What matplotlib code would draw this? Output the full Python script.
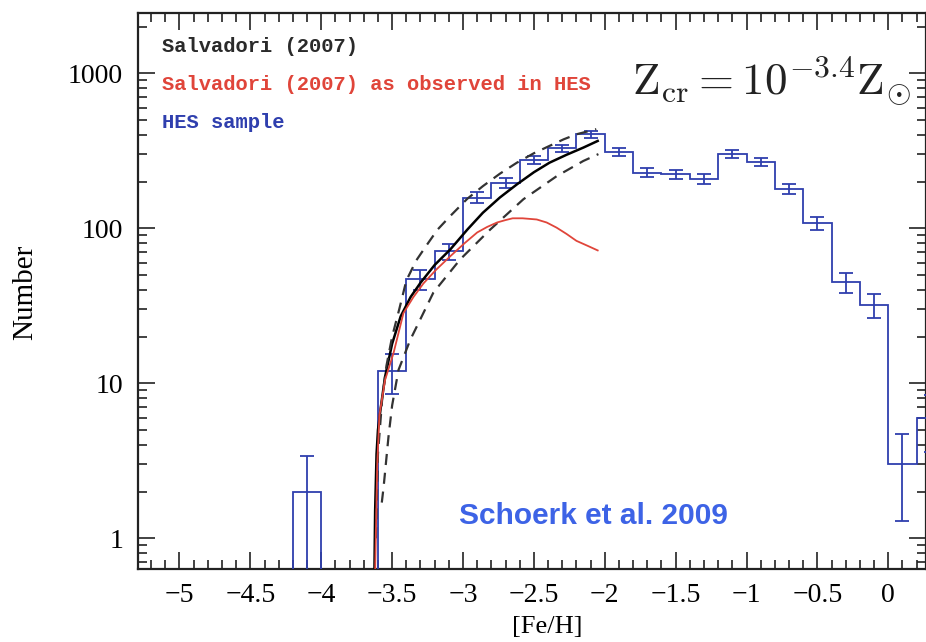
import numpy as np
import matplotlib
matplotlib.use("Agg")
import matplotlib.pyplot as plt
from matplotlib.ticker import MultipleLocator, LogLocator, NullFormatter, FixedLocator, FixedFormatter

# ---------------- data ----------------
hes_edges = [-4.2, -4.0, -3.8, -3.6, -3.4, -3.2, -3.0, -2.8, -2.6, -2.4, -2.2, -2.0,
             -1.8, -1.6, -1.4, -1.2, -1.0, -0.8, -0.6, -0.4, -0.2, 0.0, 0.2, 0.4]
hes_counts = [2, 0, 0, 12, 47, 71, 158, 197, 276, 328, 404, 312,
              229, 223, 208, 301, 268, 179, 108, 45, 32, 3, 6]
hes_err = [1.4, 0, 0, 3.5, 6.9, 8.4, 12.6, 14.0, 16.6, 18.1, 20.1, 17.7,
           15.1, 14.9, 14.4, 17.3, 16.4, 13.4, 10.4, 6.7, 5.7, 1.7, 2.4]

salv_x = [-3.625, -3.62, -3.61, -3.60, -3.58, -3.55, -3.50, -3.44, -3.37, -3.30, -3.20,
          -3.09, -2.97, -2.86, -2.74, -2.62, -2.50, -2.39, -2.27, -2.15, -2.05]
salv_y = [0.6, 1.5, 3.5, 5.0, 7.0, 11, 18, 27, 36, 44.5, 58,
          73, 98, 126, 158, 192, 230, 265, 298, 332, 366]

salv_hi_x = [-3.615, -3.60, -3.57, -3.54, -3.50, -3.45, -3.40, -3.33, -3.26, -3.18,
             -3.09, -2.97, -2.86, -2.74, -2.62, -2.50, -2.39, -2.29, -2.20, -2.06]
salv_hi_y = [1.0, 3.5, 8, 13, 20, 30, 46, 62, 77, 98,
             120, 155, 187, 225, 265, 305, 340, 375, 404, 436]

salv_lo_x = [-3.573, -3.56, -3.526, -3.50, -3.455, -3.373, -3.209, -3.020, -2.809,
             -2.574, -2.339, -2.151, -2.045]
salv_lo_y = [1.7, 2.15, 4.5, 7.2, 12.2, 19, 38.5, 63, 98, 154, 217, 272, 301]

obs_x = [-3.62, -3.605, -3.59, -3.55, -3.49, -3.42, -3.35, -3.28, -3.19, -3.09, -2.99,
         -2.90, -2.83, -2.76, -2.70, -2.65, -2.58, -2.48, -2.41, -2.34, -2.27, -2.20,
         -2.12, -2.05]
obs_y = [0.6, 3.0, 6.2, 10.5, 15.7, 28.4, 36, 44, 54, 66, 80,
         94, 102, 109, 113, 116, 116, 114, 109, 101, 92, 83,
         77, 72]

xticks = [-5, -4.5, -4, -3.5, -3, -2.5, -2, -1.5, -1, -0.5, 0]
xtick_labels = ["\u22125", "\u22124.5", "\u22124", "\u22123.5", "\u22123", "\u22122.5",
                "\u22122", "\u22121.5", "\u22121", "\u22120.5", "0"]
yticks = [1, 10, 100, 1000]
ytick_labels = ["1", "10", "100", "1000"]

# ---------------- style ----------------
W, H = 926, 642
BLUE = "#2f3fae"
RED = "#e0453a"
plt.rcParams["mathtext.fontset"] = "cm"

fig = plt.figure(figsize=(W / 100, H / 100), dpi=100)
ax = fig.add_axes([138.3 / W, 1 - 569.3 / H, (926 - 138.3) / W, (569.3 - 13.3) / H])
ax.set_yscale("log")
ax.set_xlim(-5.2906, 0.2659)
ax.set_ylim(0.631, 2438)

# HES histogram
edges = np.array(hes_edges)
counts = np.array(hes_counts, dtype=float)
ax.stairs(np.where(counts > 0, counts, 1e-3), edges, baseline=1e-3,
          color=BLUE, lw=1.3, zorder=3)
centers = 0.5 * (edges[:-1] + edges[1:])
mask = counts > 0
ax.errorbar(centers[mask], counts[mask], yerr=np.array(hes_err)[mask], fmt="none",
            ecolor=BLUE, elinewidth=1.3, capsize=5, capthick=1.3, zorder=3)

# Salvadori curves
ax.plot(salv_x, salv_y, color="black", lw=1.8, zorder=4)
ax.plot(salv_hi_x, salv_hi_y, color="#333333", lw=1.6, ls=(0, (5, 3.5)), zorder=4)
ax.plot(salv_lo_x, salv_lo_y, color="#333333", lw=1.6, ls=(0, (5, 3.5)), zorder=4)
ax.plot(obs_x, obs_y, color=RED, lw=1.3, zorder=4)

# ticks
ax.xaxis.set_major_locator(FixedLocator(xticks))
ax.xaxis.set_major_formatter(FixedFormatter(xtick_labels))
ax.xaxis.set_minor_locator(MultipleLocator(0.1))
ax.yaxis.set_major_locator(FixedLocator(yticks))
ax.yaxis.set_major_formatter(FixedFormatter(ytick_labels))
ax.yaxis.set_minor_locator(LogLocator(base=10, subs=np.arange(2, 10), numticks=20))
ax.yaxis.set_minor_formatter(NullFormatter())
ax.tick_params(which="both", direction="in", top=True, right=True, width=1.2, color="#222222")
ax.tick_params(which="major", length=12)
ax.tick_params(which="minor", length=6.5)
ax.tick_params(axis="x", which="major", pad=10, labelsize=20)
ax.tick_params(axis="y", which="major", pad=11, labelsize=20)
for lab in ax.get_xticklabels() + ax.get_yticklabels():
    lab.set_fontfamily("Liberation Serif")
for sp in ax.spines.values():
    sp.set_linewidth(1.6)
    sp.set_color("#222222")

# axis labels
fig.text(25 / W, 1 - 292 / H, "Number", rotation=90, ha="center", va="center",
         fontsize=21, family="Liberation Serif")
fig.text(547 / W, 1 - 627 / H, "[Fe/H]", ha="center", va="center",
         fontsize=19, family="Liberation Serif")

# legend-like texts
fig.text(162 / W, 1 - 46 / H, "Salvadori (2007)", ha="left", va="center",
         fontsize=14.8, family="Liberation Mono", weight="bold", color="#2a2a2a")
fig.text(162 / W, 1 - 84 / H, "Salvadori (2007) as observed in HES", ha="left", va="center",
         fontsize=14.8, family="Liberation Mono", weight="bold", color=RED)
fig.text(162 / W, 1 - 122 / H, "HES sample", ha="left", va="center",
         fontsize=14.8, family="Liberation Mono", weight="bold", color=BLUE)

fig.text(632 / W, 1 - 95 / H, r"$\mathrm{Z_{cr}}=10^{-3.4}\mathrm{Z}_{\odot}$",
         ha="left", va="baseline", fontsize=32.5, color="#222222")

fig.text(593 / W, 1 - 516 / H, "Schoerk et al. 2009", ha="center", va="center",
         fontsize=21.5, family="Liberation Sans", weight="bold", color="#3d63e6")

fig.savefig("out.png", dpi=100)
